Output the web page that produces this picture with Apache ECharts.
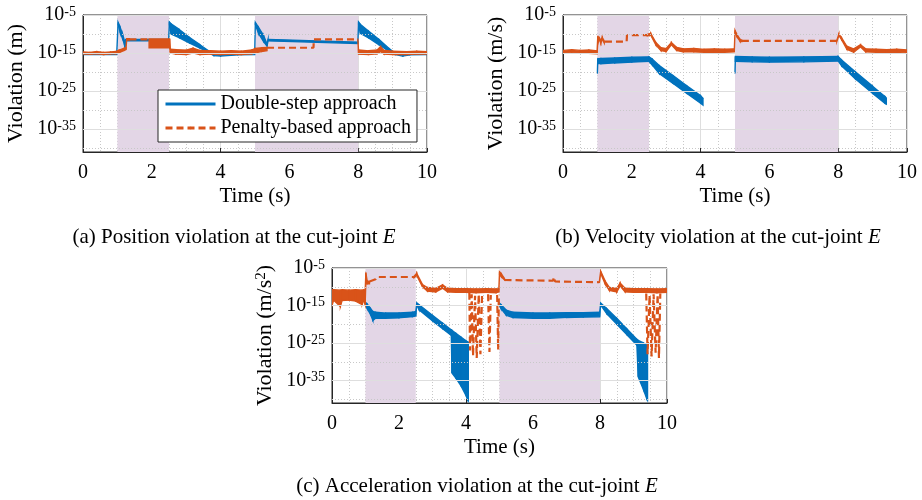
<!DOCTYPE html>
<html>
<head>
<meta charset="utf-8">
<script src="https://cdn.jsdelivr.net/npm/echarts@6/dist/echarts.min.js"></script>
<style>
  html, body { margin: 0; background: #fff; }
  #chart { width: 922px; height: 500px; }
</style>
</head>
<body>
<div id="chart"></div>
<script>
// values are log10 of the violation; bands are [t, upper, lower], GAP breaks a band
const GAP = [null, null, null];
const BRK = [null, null];

const xRange = [0, 10];
const yRange = [-41, -5];
const yTickExps = [-5, -15, -25, -35];
const yMinorExps = [-10, -20, -30, -40];
const shadedSpans = [[1, 2.5], [5, 8]];

// (a) position
const posDouble = [
  [0.00, -15.0, -15.4], [0.98, -15.0, -15.4], [1.02, -6.9, -7.5], [1.08, -8.2, -9.6],
  [1.15, -10.0, -11.2], [1.20, -11.6, -12.6], [1.22, -13.2, -13.7], [1.24, -11.4, -11.8],
  [2.49, -11.4, -11.8], [2.51, -6.8, -7.5], [2.56, -7.3, -10.0], [2.80, -8.8, -11.0],
  [3.10, -10.9, -12.4], [3.40, -12.8, -13.7], [3.65, -14.4, -14.9], [3.80, -15.1, -15.7],
  [4.00, -15.1, -15.8], [4.50, -15.0, -15.5], [4.99, -15.0, -15.4], [5.01, -6.9, -7.5],
  [5.10, -8.2, -9.8], [5.25, -10.4, -12.0], [5.35, -12.6, -13.2], [5.38, -11.4, -11.8],
  [7.99, -12.1, -12.5], [8.01, -6.8, -7.5], [8.06, -7.4, -9.8], [8.30, -9.2, -11.0],
  [8.60, -11.4, -12.8], [8.90, -13.8, -14.6], [9.07, -15.0, -15.4], [9.30, -15.3, -15.8],
  [9.50, -15.1, -15.5], [10.0, -15.0, -15.4]
];
const posPenalty = [
  [0.00, -14.7, -15.3], [0.20, -14.8, -15.3], [0.40, -14.6, -15.2], [0.60, -14.8, -15.4],
  [0.80, -14.7, -15.2], [0.95, -14.6, -15.2], [1.05, -14.2, -14.9], [1.20, -13.7, -14.3],
  [1.25, -13.6, -14.1], [1.27, -11.2, -11.6], [1.35, -11.2, -11.6], GAP,
  [1.92, -11.3, -13.6], [2.52, -11.3, -13.6], [2.54, -14.0, -15.0], [2.70, -14.1, -15.3],
  [3.00, -14.2, -15.4], [3.20, -13.7, -15.0], [3.40, -14.3, -15.4], [3.70, -14.4, -15.3],
  [4.00, -14.5, -15.4], [4.30, -14.4, -15.3], [4.60, -14.5, -15.4], [4.90, -14.2, -15.2],
  [5.00, -13.8, -15.0], [5.20, -13.6, -14.6], [5.35, -13.5, -14.4], GAP,
  [7.99, -11.2, -11.6], [8.01, -14.2, -15.3], [8.30, -14.4, -15.4], [8.55, -14.2, -15.2],
  [8.65, -13.3, -14.6], [8.75, -14.3, -15.3], [9.00, -14.5, -15.4], [9.40, -14.6, -15.4],
  [9.70, -14.5, -15.3], [10.0, -14.6, -15.3]
];
const posPenaltyDash = [
  [1.35, -11.4], [1.92, -11.4], BRK,
  [5.35, -13.6], [6.70, -13.6], [6.71, -11.4], [7.99, -11.4]
];

// (b) velocity
const velDouble = [
  [1.00, -19.6, -20.4], [1.01, -16.5, -17.8], [1.10, -16.4, -17.8], [1.50, -16.3, -17.6],
  [2.00, -16.1, -17.4], [2.50, -16.0, -17.2], [2.60, -16.6, -18.2], [2.80, -18.3, -20.4],
  [3.20, -20.9, -23.0], [3.60, -23.6, -25.6], [4.00, -26.2, -28.2], [4.07, -26.9, -28.7], GAP,
  [5.00, -19.6, -20.4], [5.01, -15.9, -17.2], [5.50, -16.0, -17.3], [6.00, -16.1, -17.4],
  [7.00, -16.0, -17.3], [8.00, -15.9, -17.1], [8.10, -16.8, -18.4], [8.50, -19.9, -21.8],
  [9.00, -23.7, -25.6], [9.36, -26.4, -28.2], [9.40, -26.8, -28.4]
];
const velPenalty = [
  [0.00, -14.3, -15.0], [0.25, -14.1, -14.9], [0.50, -14.3, -15.0], [0.75, -14.2, -15.1],
  [0.99, -14.4, -15.2], [1.01, -10.7, -12.6], [1.05, -10.9, -11.4], [1.10, -11.6, -12.4],
  [1.14, -10.9, -11.4], [1.20, -11.8, -12.4], GAP,
  [2.45, -10.1, -10.5], [2.55, -9.8, -10.3], [2.70, -12.2, -12.9], [2.85, -13.6, -14.4],
  [3.00, -13.8, -14.6], [3.15, -12.2, -12.8], [3.30, -13.5, -14.3], [3.50, -13.9, -14.7],
  [3.80, -13.8, -14.7], [4.10, -14.0, -14.8], [4.40, -13.9, -14.8], [4.70, -14.0, -14.8],
  [4.98, -13.9, -14.7], [5.00, -9.0, -9.6], [5.05, -10.0, -10.6], [5.15, -11.4, -12.0],
  [5.20, -11.6, -12.0], GAP,
  [7.96, -11.6, -12.0], [8.02, -10.0, -10.4], [8.10, -11.0, -11.5], [8.25, -13.2, -14.0],
  [8.45, -13.9, -14.8], [8.65, -12.8, -13.4], [8.80, -13.9, -14.7], [9.10, -14.0, -14.8],
  [9.40, -14.1, -14.9], [9.70, -14.0, -14.8], [10.0, -14.2, -15.0]
];
const velPenaltyDash = [
  [1.22, -12.0], [1.85, -12.0], [1.86, -10.3], [2.45, -10.3], BRK,
  [5.20, -11.8], [7.96, -11.8]
];

// (c) acceleration
const accDouble = [
  [1.00, -14.2, -14.8], [1.05, -14.6, -15.8], [1.15, -15.8, -17.4], [1.22, -16.6, -19.0],
  [1.30, -16.8, -18.4], [1.60, -17.0, -18.4], [2.00, -17.0, -18.3], [2.40, -16.8, -18.0],
  [2.50, -16.6, -17.8], [2.53, -14.3, -14.9], [2.60, -14.8, -16.2], [3.00, -17.6, -19.1],
  [3.30, -19.7, -21.2], [3.56, -21.5, -23.0], [3.58, -21.6, -33.0], [3.70, -22.4, -34.4],
  [3.85, -23.4, -36.4], [4.00, -24.4, -39.0], [4.05, -24.7, -40.2], [4.07, -24.8, -40.4], GAP,
  [5.00, -14.4, -15.0], [5.05, -14.8, -15.9], [5.20, -16.2, -17.6], [5.40, -16.8, -18.2],
  [6.00, -17.0, -18.4], [6.50, -17.0, -18.4], [7.00, -16.9, -18.2], [7.50, -16.9, -18.1],
  [7.99, -16.8, -18.0], [8.02, -14.3, -14.9], [8.20, -15.8, -17.2], [8.50, -18.4, -20.0],
  [8.80, -21.2, -22.8], [9.10, -24.0, -25.6], [9.14, -24.3, -34.0], [9.30, -25.0, -37.5],
  [9.40, -25.6, -40.0], [9.42, -25.8, -40.2]
];
const accPenalty = [
  [0.00, -10.8, -15.0], [0.05, -10.8, -13.6], [0.25, -10.9, -15.3], [0.30, -10.8, -13.7],
  [0.50, -10.9, -13.6], [0.70, -10.8, -13.8], [0.90, -10.9, -14.8], [0.95, -10.8, -13.6],
  [0.99, -10.9, -14.8], [1.01, -6.2, -9.2], [1.05, -8.4, -9.2], [1.12, -8.6, -9.2], GAP,
  [2.45, -7.2, -7.6], [2.53, -6.4, -7.0], [2.70, -9.4, -10.0], [2.85, -10.2, -11.2],
  [3.10, -10.4, -11.4], [3.30, -9.5, -10.4], [3.45, -10.4, -11.4], [3.70, -10.5, -11.5],
  [4.00, -10.5, -11.5], [4.30, -10.6, -11.6], [4.60, -10.5, -11.5], [4.90, -10.6, -11.6],
  [4.98, -10.5, -11.4], [5.00, -6.0, -6.8], [5.06, -6.6, -7.4], [5.15, -7.8, -8.2], GAP,
  [7.98, -8.6, -9.0], [8.02, -5.8, -6.4], [8.15, -8.4, -9.2], [8.28, -10.2, -11.0],
  [8.50, -10.4, -11.4], [8.60, -9.0, -9.8], [8.75, -10.4, -11.4], [9.00, -10.5, -11.5],
  [9.40, -10.5, -11.5], [9.70, -10.6, -11.6], [10.0, -10.5, -11.5]
];
const accPenaltyDash = [
  [1.12, -8.6], [1.30, -8.0], [1.34, -7.4], [2.45, -7.4], BRK,
  [4.10, -11.6], [4.12, -27.0], [4.17, -12.0], [4.21, -28.4], [4.27, -12.4], [4.32, -29.0],
  [4.38, -12.0], [4.43, -28.0], [4.48, -12.0], BRK,
  [4.66, -12.0], [4.70, -27.4], [4.74, -12.2], BRK,
  [4.93, -12.2], [4.96, -26.8], [4.98, -12.0], BRK,
  [5.15, -8.2], [6.60, -8.4], [6.62, -7.4], [6.66, -8.6], [7.98, -8.8], BRK,
  [9.38, -11.8], [9.42, -28.0], [9.48, -12.2], [9.54, -28.6], [9.60, -12.0], [9.66, -27.6],
  [9.72, -12.0], [9.76, -29.0], [9.80, -11.8]
];

const DOUBLE = 'Double-step approach';
const PENALTY = 'Penalty-based approach';
const BLUE = '#0072BD', ORANGE = '#D95319';
const FONT = 'Liberation Serif';
const AXIS = '#262626', GRID_MAJOR = '#dedede', GRID_MINOR = '#c8c8c8', SHADE = '#e3d6e6';
const DASH = [7, 4];

const panels = [
  { box: [83, 15, 344, 137], yName: 'Violation (m)', double: posDouble, penalty: posPenalty, dash: posPenaltyDash,
    caption: '(a) Position violation at the cut-joint {i|E}', cap: [234, 237] },
  { box: [563, 15, 344, 137], yName: 'Violation (m/s)', double: velDouble, penalty: velPenalty, dash: velPenaltyDash,
    caption: '(b) Velocity violation at the cut-joint {i|E}', cap: [718, 237] },
  { box: [332, 268, 335, 135], yName: '{a|Violation (m/s}{s|2}{a|)}', double: accDouble, penalty: accPenalty, dash: accPenaltyDash,
    caption: '(c) Acceleration violation at the cut-joint {i|E}', cap: [477, 486] }
];

function band(color) {
  return function (params, api) {
    const i = params.dataIndexInside;
    if (i >= params.dataInsideLength - 1) return;
    const a = [api.value(0, i), api.value(1, i), api.value(2, i)];
    const b = [api.value(0, i + 1), api.value(1, i + 1), api.value(2, i + 1)];
    if (a.concat(b).some(v => v == null || isNaN(v))) return;
    const pts = [api.coord([a[0], a[1]]), api.coord([b[0], b[1]]), api.coord([b[0], b[2]]), api.coord([a[0], a[2]])];
    return { type: 'polygon', shape: { points: pts }, style: { fill: color, stroke: color, lineWidth: 1.3 } };
  };
}

const text = (size, extra) => Object.assign({ fontFamily: FONT, fontSize: size, color: '#000' }, extra || {});

const option = { animation: false, grid: [], xAxis: [], yAxis: [], series: [], graphic: [] };

panels.forEach((p, i) => {
  const [left, top, width, height] = p.box;
  option.grid.push({ left, top, width, height, show: true, borderColor: AXIS, borderWidth: 1, backgroundColor: 'transparent' });
  option.xAxis.push({
    type: 'value', gridIndex: i, min: xRange[0], max: xRange[1], interval: 2,
    name: 'Time (s)', nameLocation: 'middle', nameGap: 34, nameTextStyle: text(21),
    axisLine: { lineStyle: { color: AXIS } },
    axisTick: { inside: true, length: 4, lineStyle: { color: AXIS } },
    minorTick: { show: false, splitNumber: 4 },
    axisLabel: text(20, { margin: 11 }),
    splitLine: { lineStyle: { color: GRID_MAJOR } },
    minorSplitLine: { show: true, lineStyle: { color: GRID_MINOR, type: [1, 2] } }
  });
  option.yAxis.push({
    type: 'value', gridIndex: i, min: yRange[0], max: yRange[1],
    name: p.yName, nameLocation: 'middle', nameGap: 56,
    nameTextStyle: text(22, { rich: { a: text(22), s: text(15, { verticalAlign: 'top', lineHeight: 15 }) } }),
    axisLine: { lineStyle: { color: AXIS } },
    axisTick: { inside: true, length: 4, customValues: yTickExps, lineStyle: { color: AXIS } },
    axisLabel: {
      customValues: yTickExps, margin: 7,
      formatter: v => `{b|10}{s|${v}}`,
      rich: {
        b: text(20, { lineHeight: 20, padding: [3, 0, 0, 0], verticalAlign: 'bottom' }),
        s: text(14, { lineHeight: 14, verticalAlign: 'top' })
      }
    },
    splitLine: { show: false }
  });
  option.series.push({
    type: 'line', xAxisIndex: i, yAxisIndex: i, data: [], z: -1, silent: true,
    markArea: { silent: true, itemStyle: { color: SHADE }, data: shadedSpans.map(([a, b]) => [{ xAxis: a }, { xAxis: b }]) }
  });
  option.series.push({
    type: 'line', xAxisIndex: i, yAxisIndex: i, data: [], z: 1, silent: true,
    markLine: {
      silent: true, symbol: ['none', 'none'], label: { show: false },
      data: yTickExps.map(v => ({ yAxis: v, lineStyle: { color: GRID_MAJOR, type: 'solid', width: 1 } }))
        .concat(yMinorExps.map(v => ({ yAxis: v, lineStyle: { color: GRID_MINOR, type: [1, 2], width: 1 } })))
    }
  });
  option.series.push({
    type: 'custom', name: DOUBLE, xAxisIndex: i, yAxisIndex: i, data: p.double,
    dimensions: ['t', 'hi', 'lo'], encode: { x: 0, y: [1, 2] },
    renderItem: band(BLUE), itemStyle: { color: BLUE }, clip: true, silent: true, z: 2
  });
  option.series.push({
    type: 'custom', name: 'penalty-band-' + i, xAxisIndex: i, yAxisIndex: i, data: p.penalty,
    dimensions: ['t', 'hi', 'lo'], encode: { x: 0, y: [1, 2] },
    renderItem: band(ORANGE), itemStyle: { color: ORANGE }, clip: true, silent: true, z: 3
  });
  option.series.push({
    type: 'line', name: PENALTY, xAxisIndex: i, yAxisIndex: i, data: p.dash,
    showSymbol: false, symbol: 'none', connectNulls: false, silent: true, z: 3,
    lineStyle: { color: ORANGE, width: 2.2, type: DASH }, itemStyle: { color: ORANGE }
  });
  option.graphic.push({
    type: 'text', x: p.cap[0], y: p.cap[1],
    style: {
      text: p.caption, fontFamily: FONT, fontSize: 21, fill: '#000',
      align: 'center', verticalAlign: 'middle', textAlign: 'center', textVerticalAlign: 'middle',
      rich: { i: { fontFamily: FONT, fontSize: 21, fontStyle: 'italic', fill: '#000' } }
    }
  });
});

option.legend = {
  left: 158, top: 90, orient: 'vertical', selectedMode: false, z: 10,
  data: [
    { name: DOUBLE, icon: 'rect', itemStyle: { color: BLUE, borderWidth: 0 } },
    { name: PENALTY, lineStyle: { color: ORANGE, width: 3, type: DASH } }
  ],
  itemWidth: 50, itemHeight: 3, itemGap: 4, padding: [4, 6, 4, 6],
  borderColor: AXIS, borderWidth: 1, backgroundColor: '#fff', borderRadius: 0,
  textStyle: text(20)
};

const chart = echarts.init(document.getElementById('chart'), null, { renderer: 'canvas' });
chart.setOption(option);
</script>
</body>
</html>
